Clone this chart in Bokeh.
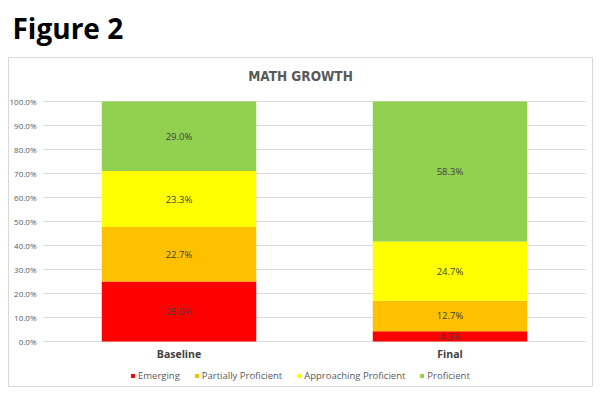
from bokeh.plotting import figure
from bokeh.models import (ColumnDataSource, Label, Legend, LegendItem, Title, Range1d)
from bokeh.core.properties import value
from bokeh.embed import file_html
from bokeh.resources import INLINE

categories = ["Baseline", "Final"]
levels = ["Emerging", "Partially Proficient", "Approaching Proficient", "Proficient"]
emerging = [25.0, 4.3]
partially = [22.7, 12.7]
approaching = [23.3, 24.7]
proficient = [29.0, 58.3]
colors = ["#FF0000", "#FFC000", "#FFFF00", "#92D050"]
y_ticks = [0, 10, 20, 30, 40, 50, 60, 70, 80, 90, 100]

FONT = "Open Sans"
TITLE_FONT = "'Liberation Sans Narrow', 'DejaVu Sans Condensed', sans-serif"

xpos = list(range(len(categories)))
data = {"x": xpos, "Emerging": emerging, "Partially Proficient": partially,
        "Approaching Proficient": approaching, "Proficient": proficient}
src = ColumnDataSource(data)

p = figure(width=600, height=400, x_axis_type=None, y_axis_type=None,
           x_range=Range1d(-0.6292, 1.5258), y_range=Range1d(-18.75, 118.33),
           output_backend="svg", toolbar_location=None,
           min_border_top=57, min_border_left=8, min_border_right=8, min_border_bottom=14)
p.outline_line_color = "#D9D9D9"
p.outline_line_width = 1
p.background_fill_color = "white"
p.border_fill_color = "white"
p.grid.visible = False

# horizontal gridlines from the tick list
n = len(categories)
p.segment(x0=[-0.5] * len(y_ticks), x1=[n - 0.5] * len(y_ticks), y0=y_ticks, y1=y_ticks,
          line_color="#D9D9D9", line_width=1)

renderers = p.vbar_stack(levels, x="x", width=0.57, color=colors, source=src,
                         line_color=None)

# y tick labels
p.text(x=[-0.5] * len(y_ticks), y=y_ticks, text=[f"{t:.1f}%" for t in y_ticks],
       x_offset=-7, text_align="right", text_baseline="middle",
       text_font=value(FONT), text_font_size="8px", text_color="#595959")

# category labels
p.text(x=xpos, y=[0] * n, text=categories, y_offset=13,
       text_align="center", text_baseline="middle",
       text_font=value(FONT), text_font_size="10.5px", text_font_style="bold",
       text_color="#404040")

# segment labels
series = [emerging, partially, approaching, proficient]
xs, ys, texts = [], [], []
for i in xpos:
    base = 0.0
    for s in series:
        v = s[i]
        xs.append(i)
        ys.append(base + v / 2)
        texts.append(f"{v:.1f}%")
        base += v
p.text(x=xs, y=ys, text=texts, text_align="center", text_baseline="middle",
       text_font=value(FONT), text_font_size="9.5px", text_color="#404040")

legend = Legend(items=[LegendItem(label=l, renderers=[r]) for l, r in zip(levels, renderers)],
                orientation="horizontal", location=(122, 4),
                glyph_width=5, glyph_height=5, spacing=14, label_standoff=3,
                label_text_font=FONT, label_text_font_size="9.5px",
                label_text_color="#595959", border_line_color=None,
                background_fill_alpha=0, padding=3, margin=0, label_height=10)
p.add_layout(legend, "center")

p.add_layout(Label(x=292, y=311, x_units="screen", y_units="screen", text="MATH GROWTH",
                   text_font=TITLE_FONT, text_font_size="13.5px",
                   text_font_style="bold", text_color="#595959",
                   text_align="center", text_baseline="middle"))

p.add_layout(Title(text="Figure 2", align="left", offset=4, standoff=17,
                   vertical_align="top", text_line_height=0.9,
                   text_font=FONT, text_font_size="28px", text_font_style="bold",
                   text_color="#000000"), "above")

open("out.html", "w").write(file_html(p, INLINE))
